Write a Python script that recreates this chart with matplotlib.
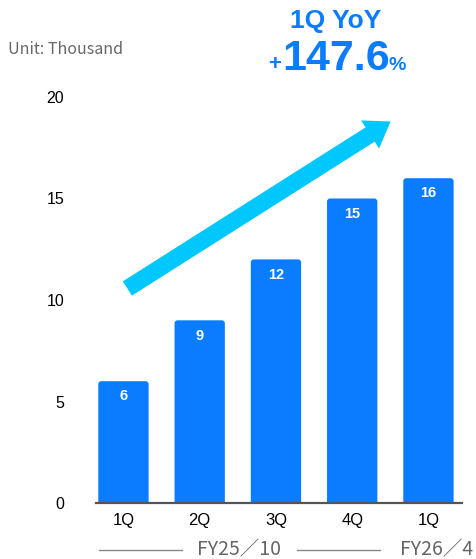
import matplotlib
matplotlib.use("Agg")
import matplotlib.pyplot as plt
from matplotlib.patches import FancyArrowPatch, FancyBboxPatch
from matplotlib.lines import Line2D

quarters = ["1Q", "2Q", "3Q", "4Q", "1Q"]
values = [6, 9, 12, 15, 16]
yticks = [0, 5, 10, 15, 20]
fiscal_labels = ["FY25／10", "FY26／4"]
unit_label = "Unit: Thousand"
yoy_title = "1Q YoY"
yoy_value = "147.6"

BAR_BLUE = "#0A7CFF"
ARROW_CYAN = "#00C8FF"
TEXT_BLUE = "#0A7CFF"
GRAY = "#666666"

W, H = 477, 559
fig = plt.figure(figsize=(W / 100, H / 100), dpi=100)

def fx(px):
    return px / W

def fy(py):
    return 1 - py / H

ax = fig.add_axes([fx(96), fy(503), fx(462) - fx(96), fy(97) - fy(503)])
x = list(range(len(values)))
bars = ax.bar(x, values, width=0.66, color=BAR_BLUE, zorder=2)
ax.set_xlim(-0.36, 4.44)
ax.set_ylim(0, 20)

# swap plain rectangles for ones with softly rounded top corners;
# the bottom edge is pushed under the axis so only the top shows rounding
for b in bars:
    b.set_visible(False)
    rb = FancyBboxPatch((b.get_x(), -1), b.get_width(), b.get_height() + 1,
                        boxstyle="round,pad=0,rounding_size=0.04",
                        mutation_aspect=3.7, facecolor=BAR_BLUE, lw=0, zorder=2)
    ax.add_patch(rb)

for xi, v in zip(x, values):
    ax.annotate(str(v), (xi, v), xytext=(0, -11), textcoords="offset points",
                ha="center", va="center", color="white", fontsize=10.5,
                fontweight="bold", family="Liberation Sans")

for s in ["top", "right", "left"]:
    ax.spines[s].set_visible(False)
ax.spines["bottom"].set_color("#555555")
ax.spines["bottom"].set_linewidth(1.6)
ax.spines["bottom"].set_zorder(3)
ax.set_yticks(yticks)
ax.set_yticklabels([str(t) for t in yticks], family="Liberation Sans", fontsize=11.5)
ax.set_xticks(x)
ax.set_xticklabels(quarters, family="Liberation Sans", fontsize=12)
ax.tick_params(axis="y", length=0, pad=23)
ax.tick_params(axis="x", length=0, pad=7)

# growth arrow
arrow = FancyArrowPatch((fx(125), fy(290)), (fx(393), fy(120)),
                        transform=fig.transFigure,
                        arrowstyle="simple,head_width=2.4,head_length=1.75,tail_width=1.22",
                        mutation_scale=10, color=ARROW_CYAN, lw=0, zorder=5)
fig.patches.append(arrow)

cjk = ["Noto Sans CJK JP", "DejaVu Sans"]
fig.text(fx(8), fy(50), unit_label, ha="left", va="center", color=GRAY,
         fontsize=11.5, family=cjk)

fig.text(fx(336), fy(28), yoy_title, ha="center", va="baseline", color=TEXT_BLUE,
         fontsize=19, fontweight="bold", family="Liberation Sans")
fig.text(fx(336), fy(70), yoy_value, ha="center", va="baseline", color=TEXT_BLUE,
         fontsize=31, fontweight="bold", family="Liberation Sans")
fig.text(fx(281), fy(70), "+", ha="right", va="baseline", color=TEXT_BLUE,
         fontsize=16, fontweight="bold", family="Liberation Sans")
fig.text(fx(389), fy(70), "%", ha="left", va="baseline", color=TEXT_BLUE,
         fontsize=14, fontweight="bold", family="Liberation Sans")

# fiscal period brackets under the quarter labels
for x0, x1 in [(99, 182), (297, 380)]:
    fig.add_artist(Line2D([fx(x0), fx(x1)], [fy(550), fy(550)],
                          transform=fig.transFigure, color="#888888", lw=1.0))
fig.text(fx(239), fy(550), fiscal_labels[0], ha="center", va="center",
         color=GRAY, fontsize=14, family=cjk)
fig.text(fx(437), fy(550), fiscal_labels[1], ha="center", va="center",
         color=GRAY, fontsize=14, family=cjk)

fig.savefig("out.png", dpi=100)
